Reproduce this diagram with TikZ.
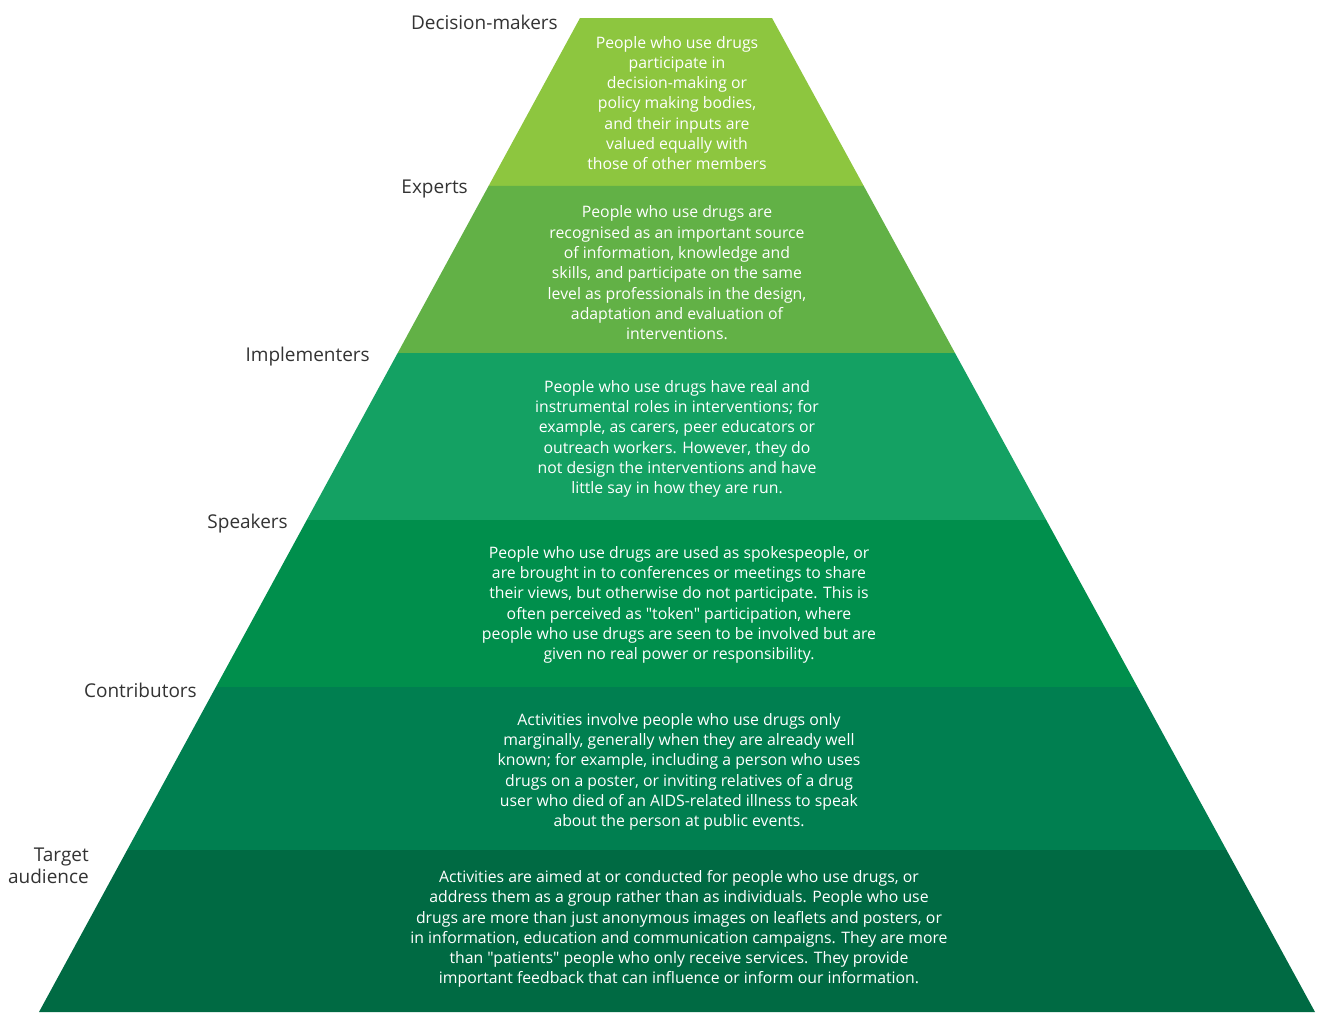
\documentclass[tikz,border=0pt]{standalone}
\usepackage{fontspec}
\setmainfont{Open Sans}[Ligatures=TeXOff]
\usetikzlibrary{calc}
\definecolor{cA}{HTML}{8DC63F}
\definecolor{cB}{HTML}{62B146}
\definecolor{cC}{HTML}{14A163}
\definecolor{cD}{HTML}{008F4C}
\definecolor{cE}{HTML}{007F50}
\definecolor{cF}{HTML}{006A43}
\definecolor{lbl}{HTML}{333333}
\tikzset{
  body/.style={text=white, align=center, inner sep=0pt, font=\fontsize{15.8}{20.3}\selectfont},
  lvl/.style={text=lbl, inner sep=0pt, anchor=east, align=right, font=\fontsize{19}{21.5}\selectfont},
}
\begin{document}
\begin{tikzpicture}[x=1pt,y=-1pt]
\useasboundingbox (0,0) rectangle (1319,1012);
\coordinate (TL) at (580,18);
\coordinate (TR) at (772,18);
\coordinate (BL) at (39,1012);
\coordinate (BR) at (1315,1012);
\foreach \n/\t in {0/0,1/0.16901,2/0.33702,3/0.50503,4/0.67304,5/0.83702,6/1}{
  \coordinate (L\n) at ($(TL)!\t!(BL)$);
  \coordinate (R\n) at ($(TR)!\t!(BR)$);
}
\fill[cA] (L0) -- (R0) -- (R1) -- (L1) -- cycle;
\fill[cB] (L1) -- (R1) -- (R2) -- (L2) -- cycle;
\fill[cC] (L2) -- (R2) -- (R3) -- (L3) -- cycle;
\fill[cD] (L3) -- (R3) -- (R4) -- (L4) -- cycle;
\fill[cE] (L4) -- (R4) -- (R5) -- (L5) -- cycle;
\fill[cF] (L5) -- (R5) -- (R6) -- (L6) -- cycle;

\node[body] (t1) at (677,103) {People who use drugs\\participate in\\decision-making or\\policy making bodies,\\and their inputs are\\valued equally with\\those of other members};
\node[body] (t2) at (677,273) {People who use drugs are\\recognised as an important source\\of information, knowledge and\\skills, and participate on the same\\level as professionals in the design,\\adaptation and evaluation of\\interventions.};
\node[body] (t3) at (677,439) {People who use drugs have real and\\instrumental roles in interventions; for\\example, as carers, peer educators or\\outreach workers. However, they do\\not design the interventions and have\\little say in how they are run.};
\node[body] (t4) at (679,605) {People who use drugs are used as spokespeople, or\\are brought in to conferences or meetings to share\\their views, but otherwise do not participate. This is\\often perceived as "token" participation, where\\people who use drugs are seen to be involved but are\\given no real power or responsibility.};
\node[body] (t5) at (679,772) {Activities involve people who use drugs only\\marginally, generally when they are already well\\known; for example, including a person who uses\\drugs on a poster, or inviting relatives of a drug\\user who died of an AIDS-related illness to speak\\about the person at public events.};
\node[body] (t6) at (679,929) {Activities are aimed at or conducted for people who use drugs, or\\address them as a group rather than as individuals. People who use\\drugs are more than just anonymous images on leaflets and posters, or\\in information, education and communication campaigns. They are more\\than "patients" people who only receive services. They provide\\important feedback that can influence or inform our information.};

\node[lvl] (n1) at (558,22) {Decision-makers};
\node[lvl] (n2) at (468,189) {Experts};
\node[lvl] (n3) at (370,357) {Implementers};
\node[lvl] (n4) at (288,524) {Speakers};
\node[lvl] (n5) at (197,690) {Contributors};
\node[lvl] (n6) at (89,866) {Target\\audience};
\end{tikzpicture}
\end{document}
